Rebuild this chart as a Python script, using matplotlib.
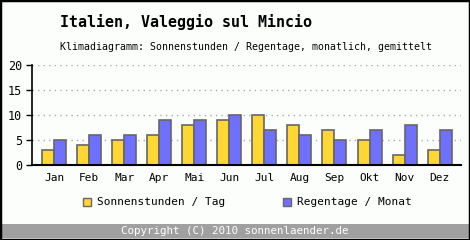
"""Klimadiagramm Valeggio sul Mincio: Sonnenstunden / Regentage pro Monat."""

import numpy as np
import matplotlib
matplotlib.use("Agg")
import matplotlib.pyplot as plt
from matplotlib.patches import Rectangle

months = ["Jan", "Feb", "Mar", "Apr", "Mai", "Jun",
          "Jul", "Aug", "Sep", "Okt", "Nov", "Dez"]
sonnenstunden = [3, 4, 5, 6, 8, 9, 10, 8, 7, 5, 2, 3]
regentage = [5, 6, 6, 9, 9, 10, 7, 6, 5, 7, 8, 7]
y_ticks = [0, 5, 10, 15, 20]

YELLOW = "#ffd733"
BLUE = "#7070ff"
EDGE = "#666666"
BG = "#fcfefc"
MONO = "DejaVu Sans Mono"

W, H = 470, 240
fig = plt.figure(figsize=(W / 100, H / 100), dpi=100, facecolor=BG)

# axes placed in pixel coordinates of the original
ax = fig.add_axes([32 / W, (H - 165) / H, (461 - 32) / W, 100 / H])
ax.set_facecolor(BG)

x = np.arange(len(months))
bw = 0.342
ax.bar(x - bw / 2, sonnenstunden, bw, color=YELLOW, edgecolor=EDGE, linewidth=1.2, zorder=3)
ax.bar(x + bw / 2, regentage, bw, color=BLUE, edgecolor=EDGE, linewidth=1.2, zorder=3)

ax.set_xlim(-0.63, 11.61)
ax.set_ylim(0, 20)
ax.set_yticks(y_ticks)
ax.set_xticks(x)
ax.set_xticklabels(months, family=MONO, fontsize=8)
for lab in ax.get_yticklabels():
    lab.set_family(MONO)
    lab.set_fontsize(8.5)
ax.tick_params(axis="x", length=0, pad=6)
ax.tick_params(axis="y", length=4, width=1, pad=3)
for v in y_ticks[1:]:
    ax.axhline(v, color="#aaaaaa", linestyle=(0, (1, 3)), linewidth=1, zorder=1)

for side in ("top", "right"):
    ax.spines[side].set_visible(False)
ax.spines["left"].set_linewidth(1.2)
ax.spines["bottom"].set_linewidth(1.5)
ax.spines["left"].set_zorder(4)
ax.spines["bottom"].set_zorder(4)

# titles
fig.text(60 / W, 1 - 22 / H, "Italien, Valeggio sul Mincio", family=MONO,
         fontsize=10.8, fontweight="bold", va="center", ha="left")
fig.text(60 / W, 1 - 47 / H, "Klimadiagramm: Sonnenstunden / Regentage, monatlich, gemittelt",
         family=MONO, fontsize=7.1, va="center", ha="left")

# legend
for x0, col, label in [(83, YELLOW, "Sonnenstunden / Tag"), (283, BLUE, "Regentage / Monat")]:
    fig.patches.append(Rectangle((x0 / W, 1 - 206 / H), 8 / W, 8 / H, transform=fig.transFigure,
                                 facecolor=col, edgecolor=EDGE, linewidth=1))
    fig.text((x0 + 14) / W, 1 - 202 / H, label, family=MONO, fontsize=8, va="center", ha="left")

# footer band
fig.patches.append(Rectangle((0, 2 / H), 1, 14 / H, transform=fig.transFigure,
                             facecolor="#a0a0a0", edgecolor="none"))
fig.text(0.5, 1 - 231 / H, "Copyright (C) 2010 sonnenlaender.de", family=MONO,
         fontsize=7.8, color="white", va="center", ha="center")

# outer border
fig.patches.append(Rectangle((0, 0), 1, 1, transform=fig.transFigure, facecolor="none",
                             edgecolor="black", linewidth=2.5))

fig.savefig("out.png", dpi=100, facecolor=BG)
